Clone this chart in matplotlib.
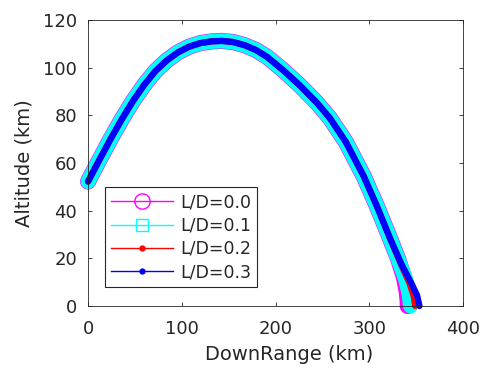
import matplotlib.pyplot as plt
from matplotlib.lines import Line2D

plt.rcParams['font.family'] = ['DejaVu Sans']

# trajectory estimates (downrange km, altitude km)
x_ld00 = [0, 12, 24, 36, 48, 60, 72, 84, 96, 108, 120, 132, 143, 155, 167, 179, 191, 208.5, 226, 244, 258, 275, 294, 308, 322, 331, 337, 340, 341, 341]
y_ld00 = [52.2, 61.2, 70.0, 78.3, 86.0, 92.8, 98.6, 103.0, 106.4, 108.8, 110.3, 111.0, 111.2, 110.7, 109.4, 107.4, 104.5, 98.8, 92.5, 85.3, 78.8, 68.8, 54.5, 42.0, 28.5, 19.5, 12, 6, 2, 0]
x_ld01 = [0, 12, 24, 36, 48, 60, 72, 84, 96, 108, 120, 132, 143, 155, 167, 179, 191, 208.5, 226, 244, 258, 275, 294, 308, 322, 332, 339, 342.5, 344]
y_ld01 = [52.2, 61.2, 70.0, 78.3, 86.0, 92.8, 98.6, 103.0, 106.4, 108.8, 110.3, 111.0, 111.2, 110.7, 109.4, 107.4, 104.5, 98.8, 92.5, 85.3, 78.8, 68.8, 54.5, 42.0, 28.5, 18.5, 11, 5, 0]
x_ld02 = [0, 12, 24, 36, 48, 60, 72, 84, 96, 108, 120, 132, 143, 155, 167, 179, 191, 208.5, 226, 244, 258, 275, 294, 308, 322, 334, 343, 347.5, 349]
y_ld02 = [52.2, 61.2, 70.0, 78.3, 86.0, 92.8, 98.6, 103.0, 106.4, 108.8, 110.3, 111.0, 111.2, 110.7, 109.4, 107.4, 104.5, 98.8, 92.5, 85.3, 78.8, 68.8, 54.5, 42.0, 28.5, 17.3, 9.5, 4, 0]
x_ld03 = [0, 12, 24, 36, 48, 60, 72, 84, 96, 108, 120, 132, 143, 155, 167, 179, 191, 208.5, 226, 244, 258, 275, 294, 308, 322, 335, 345, 351, 353.6]
y_ld03 = [52.2, 61.2, 70.0, 78.3, 86.0, 92.8, 98.6, 103.0, 106.4, 108.8, 110.3, 111.0, 111.2, 110.7, 109.4, 107.4, 104.5, 98.8, 92.5, 85.3, 78.8, 68.8, 54.5, 42.0, 28.5, 17.0, 9.5, 4.5, 0]

labels = ['L/D=0.0', 'L/D=0.1', 'L/D=0.2', 'L/D=0.3']
colors = ['#ff00ff', '#00ffff', '#ff0000', '#0000ff']
text_col = '#262626'

fig = plt.figure(figsize=(4.82, 3.73), dpi=100)
ax = fig.add_axes([0.1826, 0.1796, 0.778, 0.767])

# dense markers in the original merge into solid bands, so draw thick lines
series = [(x_ld00, y_ld00), (x_ld01, y_ld01), (x_ld02, y_ld02), (x_ld03, y_ld03)]
widths = [11.6, 10.8, 4.5, 4.5]
for (xs, ys), c, w in zip(series, colors, widths):
    ax.plot(xs, ys, color=c, lw=w, solid_capstyle='round', solid_joinstyle='round', clip_on=False)

handles = [
    Line2D([], [], color=colors[0], lw=1, marker='o', markersize=11, markerfacecolor='none'),
    Line2D([], [], color=colors[1], lw=1, marker='s', markersize=8.5, markerfacecolor='none'),
    Line2D([], [], color=colors[2], lw=1, marker='.', markersize=7),
    Line2D([], [], color=colors[3], lw=1, marker='.', markersize=7),
]
leg = ax.legend(handles, labels, loc='lower left', bbox_to_anchor=(0.045, 0.066),
                prop={'size': 12.5}, fancybox=False, edgecolor=text_col, framealpha=1,
                handlelength=3.6, borderpad=0.35, labelspacing=0.3, handletextpad=0.4,
                borderaxespad=0)
leg.get_frame().set_linewidth(0.8)
for t in leg.get_texts():
    t.set_color(text_col)

ax.set_xlim(0, 400)
ax.set_ylim(0, 120)
ax.set_xticks([0, 100, 200, 300, 400])
ax.set_yticks([0, 20, 40, 60, 80, 100, 120])
ax.tick_params(direction='in', top=True, right=True, length=3, labelsize=13,
               colors=text_col, width=0.6)
ax.tick_params(axis='x', pad=10)
ax.tick_params(axis='y', pad=8)
for s in ax.spines.values():
    s.set_color(text_col)
    s.set_linewidth(0.6)
ax.set_xlabel('DownRange (km)', fontsize=14, color=text_col, labelpad=3)
ax.xaxis.set_label_coords(0.536, -0.135)
ax.set_ylabel('Altitude (km)', fontsize=14, color=text_col, labelpad=7)

fig.savefig('out.png', dpi=100)
